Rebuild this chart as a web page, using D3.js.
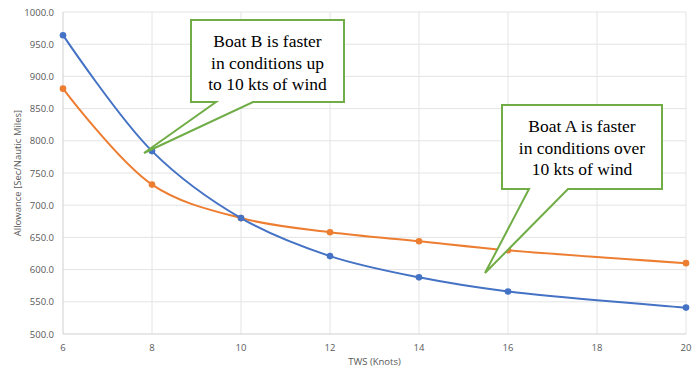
<!DOCTYPE html>
<html>
<head>
<meta charset="utf-8">
<script src="https://cdn.jsdelivr.net/npm/d3@7"></script>
<style>
  body { margin: 0; background: #fff; }
  .sans { font-family: "Open Sans", "Liberation Sans", sans-serif; }
  .serif { font-family: "Times New Roman", Times, Tinos, "Nimbus Roman", "Nimbus Roman No9 L", FreeSerif, "Liberation Serif", "DejaVu Serif", "Noto Serif", serif; }
</style>
</head>
<body>
<svg id="chart" width="697" height="377"></svg>
<script>
// wind speeds (knots) and allowances (sec / nautical mile)
const tws = [6, 8, 10, 12, 14, 16, 20];
const boatBlue = [964, 784, 680, 621, 588, 566, 541];
const boatOrange = [881, 732, 680, 658, 644, 630, 610];
const xTicks = [6, 8, 10, 12, 14, 16, 18, 20];
const yTicks = [500, 550, 600, 650, 700, 750, 800, 850, 900, 950, 1000];

const calloutB = ["Boat B is faster", "in conditions up", "to 10 kts of wind"];
const calloutA = ["Boat A is faster", "in conditions over", "10 kts of wind"];

const svg = d3.select("#chart");
const margin = { top: 12, right: 11, bottom: 43, left: 63 };
const W = 697, H = 377;

const x = d3.scaleLinear().domain([6, 20]).range([margin.left, W - margin.right]);
const y = d3.scaleLinear().domain([500, 1000]).range([H - margin.bottom, margin.top]);

// gridlines
svg.append("g").selectAll("line")
    .data(yTicks.slice(1))
    .join("line")
    .attr("x1", x(6)).attr("x2", x(20))
    .attr("y1", d => y(d)).attr("y2", d => y(d))
    .attr("stroke", "#e4e4e4").attr("stroke-width", 1);

svg.append("g").selectAll("line")
    .data(xTicks.slice(1))
    .join("line")
    .attr("x1", d => x(d)).attr("x2", d => x(d))
    .attr("y1", y(500)).attr("y2", y(1000))
    .attr("stroke", "#e4e4e4").attr("stroke-width", 1);

// axis lines
svg.append("line")
    .attr("x1", x(6)).attr("x2", x(20)).attr("y1", y(500)).attr("y2", y(500))
    .attr("stroke", "#d0d0d0");
svg.append("line")
    .attr("x1", x(6)).attr("x2", x(6)).attr("y1", y(500)).attr("y2", y(1000))
    .attr("stroke", "#d0d0d0");

// tick labels
svg.append("g").attr("class", "sans").selectAll("text")
    .data(yTicks)
    .join("text")
    .attr("x", x(6) - 9)
    .attr("y", d => y(d) + 3.5)
    .attr("text-anchor", "end")
    .attr("font-size", 9.5)
    .attr("fill", "#595959")
    .text(d => d3.format(".1f")(d));

svg.append("g").attr("class", "sans").selectAll("text")
    .data(xTicks)
    .join("text")
    .attr("x", d => x(d))
    .attr("y", y(500) + 17)
    .attr("text-anchor", "middle")
    .attr("font-size", 9.5)
    .attr("fill", "#595959")
    .text(d => d);

// axis titles
svg.append("text")
    .attr("class", "sans")
    .attr("x", (x(6) + x(20)) / 2)
    .attr("y", 365)
    .attr("text-anchor", "middle")
    .attr("font-size", 9.5)
    .attr("fill", "#595959")
    .text("TWS (Knots)");

svg.append("text")
    .attr("class", "sans")
    .attr("transform", `translate(21,${(y(500) + y(1000)) / 2}) rotate(-90)`)
    .attr("text-anchor", "middle")
    .attr("font-size", 9.5)
    .attr("fill", "#595959")
    .text("Allowance [Sec/Nautic Miles]");

// series
const series = [
    { values: boatOrange, color: "#ED7D31" },
    { values: boatBlue, color: "#4472C4" }
];

const line = d3.line()
    .x(d => x(d[0]))
    .y(d => y(d[1]))
    .curve(d3.curveCatmullRom.alpha(0.5));

series.forEach(s => {
    const pts = tws.map((t, i) => [t, s.values[i]]);
    svg.append("path")
        .datum(pts)
        .attr("d", line)
        .attr("fill", "none")
        .attr("stroke", s.color)
        .attr("stroke-width", 2);
    svg.append("g").selectAll("circle")
        .data(pts)
        .join("circle")
        .attr("cx", d => x(d[0]))
        .attr("cy", d => y(d[1]))
        .attr("r", 3.3)
        .attr("fill", s.color);
});

// callouts
function callout(box, base, tip, lines) {
    const [x0, y0, x1, y1] = box;
    const pts = [
        [x0, y0], [x1, y0], [x1, y1], [base[1], y1], tip, [base[0], y1], [x0, y1]
    ];
    svg.append("path")
        .attr("d", d3.line()(pts) + "Z")
        .attr("fill", "#fff")
        .attr("stroke", "#70AD47")
        .attr("stroke-width", 2)
        .attr("stroke-linejoin", "miter");
    const cx = (x0 + x1) / 2;
    svg.append("g").attr("class", "serif").selectAll("text")
        .data(lines)
        .join("text")
        .attr("x", cx)
        .attr("y", (d, i) => y0 + 27 + i * 21.6)
        .attr("text-anchor", "middle")
        .attr("font-size", 17.5)
        .attr("fill", "#000")
        .text(d => d);
}

callout([191, 20, 344, 102], [216, 253], [144, 153], calloutB);
callout([502, 105, 662, 189], [529, 568], [485, 273], calloutA);
</script>
</body>
</html>
